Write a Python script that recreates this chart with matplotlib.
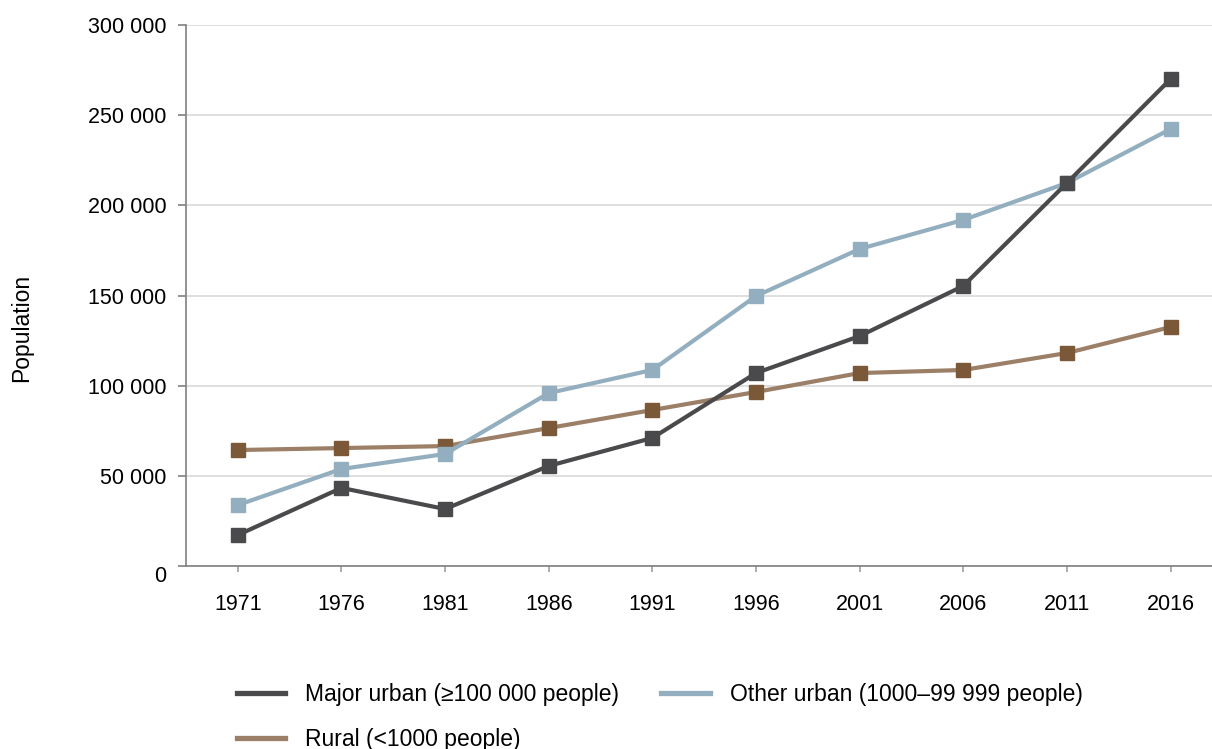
import matplotlib
matplotlib.use("Agg")
from matplotlib import pyplot as plt
from matplotlib import ticker as mticker
from matplotlib.lines import Line2D

plt.rcParams["font.family"] = ["Liberation Sans", "DejaVu Sans"]

years = [1971, 1976, 1981, 1986, 1991, 1996, 2001, 2006, 2011, 2016]
major_urban = [17200, 43300, 31600, 55500, 71000, 107000, 127500, 155300, 212400, 270000]
other_urban = [33800, 53800, 62100, 95900, 108700, 149700, 175800, 191900, 212400, 242300]
rural = [64300, 65400, 66500, 76500, 86500, 96500, 107000, 108700, 118100, 132500]

labels = ["Major urban (\u2265100 000 people)",
          "Other urban (1000\u201399 999 people)",
          "Rural (<1000 people)"]

c_major = "#4a4a4c"
c_other = "#93afbf"
c_rural_line = "#9b7f66"
c_rural_mark = "#7b5838"

fig = plt.figure(figsize=(12.12, 7.49), dpi=100, facecolor="white")
ax = fig.add_axes([186 / 1212, 1 - 566 / 749, 1 - 186 / 1212, (566 - 25) / 749])

# rural at bottom, major on top
ax.plot(years, rural, color=c_rural_line, lw=3, zorder=3)
ax.plot(years, rural, "s", color=c_rural_mark, ms=10, zorder=3.1)
ax.plot(years, other_urban, color=c_other, lw=3, zorder=4)
ax.plot(years, other_urban, "s", color=c_other, ms=10, zorder=4.1)
ax.plot(years, major_urban, color=c_major, lw=3, zorder=5)
ax.plot(years, major_urban, "s", color=c_major, ms=10, zorder=5.1)

ax.set_xlim(1968.5, 2018)
ax.set_ylim(0, 300000)
ax.set_xticks(years)
ax.set_yticks(range(0, 300001, 50000))
ax.yaxis.set_major_formatter(
    mticker.FuncFormatter(lambda v, p: f"{int(v):,}".replace(",", " ")))

ax.grid(axis="y", color="#dcdcdc", lw=1.3, zorder=0)
ax.set_axisbelow(True)
for s in ["top", "right"]:
    ax.spines[s].set_visible(False)
for s in ["left", "bottom"]:
    ax.spines[s].set_color("#808080")
    ax.spines[s].set_linewidth(1.2)

ax.tick_params(axis="y", length=6, width=1.2, color="#808080", pad=8, labelsize=15.5)
ax.tick_params(axis="x", length=4.5, width=1.2, color="#a0a0a0", pad=16, labelsize=15.5)
for lab in ax.get_yticklabels():
    if lab.get_text() == "0":
        lab.set_verticalalignment("top")

fig.text(22 / 1212, 1 - 328 / 749, "Population", rotation=90,
         ha="center", va="center", fontsize=16.5)

handles = [Line2D([], [], color=c_major, lw=3.8),
           Line2D([], [], color=c_rural_line, lw=3.8),
           Line2D([], [], color=c_other, lw=3.8)]
fig.legend(handles, [labels[0], labels[2], labels[1]], ncol=2,
           loc="upper left", bbox_to_anchor=(237 / 1212, 1 - 683 / 749),
           frameon=False, fontsize=16.5, handlelength=2.1, handletextpad=0.87,
           columnspacing=1.85, labelspacing=0.97, borderpad=0, borderaxespad=0)

fig.savefig("out.png", dpi=100)
